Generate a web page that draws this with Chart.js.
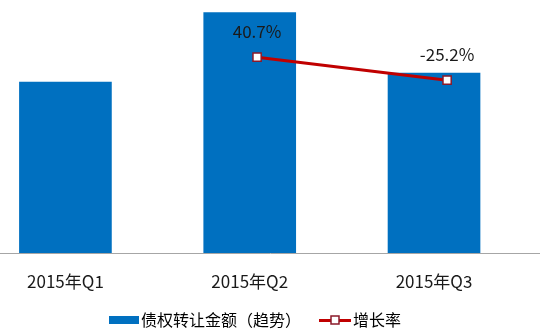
<!DOCTYPE html>
<html>
<head>
<meta charset="utf-8">
<script src="https://cdn.jsdelivr.net/npm/chart.js@4/dist/chart.umd.min.js"></script>
<style>
  html, body { margin: 0; padding: 0; background: #fff; }
  #wrap { width: 540px; height: 334px; }
</style>
</head>
<body>
<div id="wrap"><canvas id="myChart" width="540" height="334"></canvas></div>
<script>
const quarters = ['2015年Q1', '2015年Q2', '2015年Q3']
// transfer amount, index with Q1 = 100 (trend only)
const amounts = [100, 140.7, 105.2]
// quarter-on-quarter growth, %
const growth = [null, 40.7, -25.2]
const barLabel = '债权转让金额（趋势）'
const lineLabel = '增长率'

const BLUE = '#0070c0'
const RED = '#c00000'
const FONT = '"Noto Sans CJK SC", "Noto Sans", sans-serif'

// legend swatches: drawn flush right so they sit close to the text
const makeSwatch = (w, h, draw) => {
    const c = document.createElement('canvas')
    c.width = w
    c.height = h
    draw(c.getContext('2d'))
    return c
}
const barSwatch = makeSwatch(38, 8, (ctx) => {
    ctx.fillStyle = BLUE
    ctx.fillRect(8, 0, 30, 8)
})
const lineSwatch = makeSwatch(38, 10, (ctx) => {
    ctx.fillStyle = RED
    ctx.fillRect(6, 4, 32, 3)
    ctx.fillStyle = '#fff'
    ctx.strokeStyle = '#8b1a2a'
    ctx.lineWidth = 1.5
    ctx.fillRect(18, 1, 8, 8)
    ctx.strokeRect(18, 1, 8, 8)
})

const valueLabels = {
    id: 'valueLabels',
    afterDatasetsDraw(chart) {
        const ctx = chart.ctx
        const meta = chart.getDatasetMeta(1)
        ctx.save()
        ctx.font = '17px ' + FONT
        ctx.fillStyle = '#1a1a1a'
        ctx.textAlign = 'center'
        ctx.textBaseline = 'middle'
        meta.data.forEach((pt, i) => {
            const v = chart.data.datasets[1].data[i].y
            ctx.fillText(v.toFixed(1) + '%', pt.x, pt.y - 26)
        })
        ctx.restore()
    }
}

new Chart(document.getElementById('myChart'), {
    type: 'bar',
    data: {
        datasets: [
            {
                label: barLabel,
                data: amounts.map((v, i) => ({ x: i, y: v })),
                backgroundColor: BLUE,
                grouped: false,
                barThickness: 92,
                maxBarThickness: 92,
                order: 1,
            },
            {
                type: 'line',
                label: lineLabel,
                data: growth.map((g, i) => ({ x: i, y: g })).filter(d => d.y !== null),
                xAxisID: 'x2',
                yAxisID: 'y2',
                borderColor: RED,
                borderWidth: 3,
                pointStyle: 'rect',
                pointRadius: 5.8,
                pointBorderWidth: 1.5,
                pointBackgroundColor: '#fff',
                pointBorderColor: '#8b1a2a',
                order: 0,
            }
        ]
    },
    options: {
        responsive: false,
        animation: false,
        layout: { autoPadding: false, padding: { left: 0, right: 0, top: 0, bottom: -4 } },
        scales: {
            x: {
                type: 'linear',
                offset: false,
                min: -0.355,
                max: 2.575,
                grid: { display: false, drawTicks: false },
                border: { display: true, color: '#a6a6a6', width: 1 },
                ticks: {
                    stepSize: 1,
                    includeBounds: false,
                    autoSkip: false,
                    maxRotation: 0,
                    padding: 20,
                    color: '#1a1a1a',
                    font: { family: FONT, size: 17, lineHeight: 1 },
                    callback: (v) => Number.isInteger(v) ? quarters[v] : '',
                },
            },
            x2: { type: 'linear', display: false, offset: false, min: -0.353, max: 2.489 },
            y: { display: false, min: 0, max: 148 },
            y2: { display: false, min: -519, max: 204 },
        },
        plugins: {
            tooltip: { enabled: false },
            legend: {
                position: 'bottom',
                labels: {
                    usePointStyle: true,
                    pointStyleWidth: 26,
                    boxHeight: 10,
                    padding: 2,
                    color: '#1a1a1a',
                    font: { family: FONT, size: 16 },
                    // trailing spaces widen the gaps between entries
                    generateLabels: () => [
                        { text: barLabel + '\u3000\u2002', pointStyle: barSwatch, fillStyle: BLUE, strokeStyle: BLUE, lineWidth: 0, hidden: false, datasetIndex: 0 },
                        { text: lineLabel + '\u3000\u3000', pointStyle: lineSwatch, fillStyle: RED, strokeStyle: RED, lineWidth: 0, hidden: false, datasetIndex: 1 },
                    ],
                },
            },
        },
    },
    plugins: [valueLabels],
})
</script>
</body>
</html>
